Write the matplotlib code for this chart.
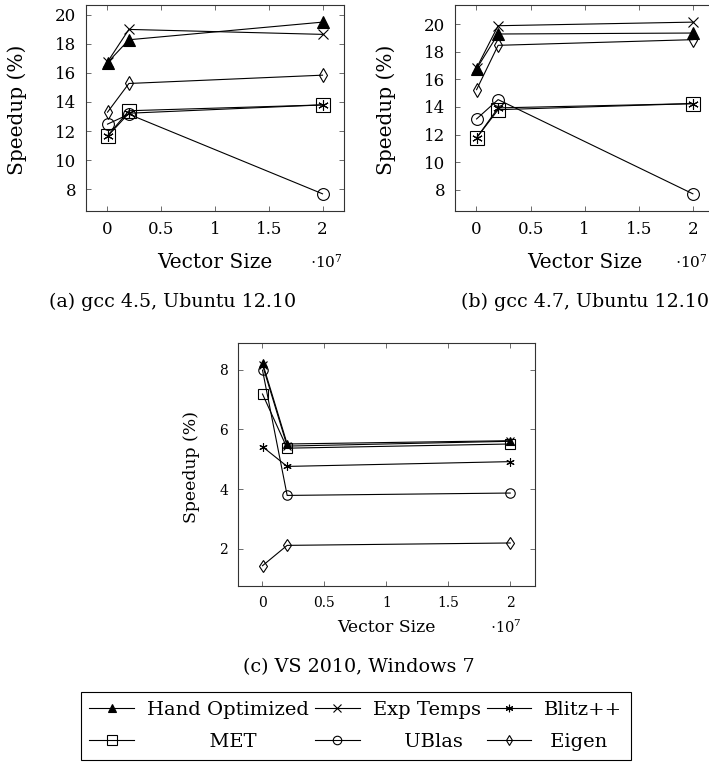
import matplotlib
matplotlib.use('Agg')
import matplotlib.pyplot as plt
from matplotlib.ticker import FuncFormatter, MultipleLocator

plt.rcParams['font.family'] = ['DejaVu Serif']
plt.rcParams['mathtext.fontset'] = 'dejavuserif'
plt.rcParams['axes.edgecolor'] = '#333333'

# vector sizes (x axis)
sizes = [1e4, 2e6, 2e7]

# (a) gcc 4.5, Ubuntu 12.10
hand_a = [16.7, 18.27, 19.48]
exp_a = [16.75, 18.98, 18.64]
blitz_a = [11.64, 13.23, 13.8]
met_a = [11.68, 13.4, 13.8]
ublas_a = [12.48, 13.16, 7.7]
eigen_a = [13.3, 15.27, 15.84]

# (b) gcc 4.7, Ubuntu 12.10
hand_b = [16.77, 19.28, 19.35]
exp_b = [16.82, 19.88, 20.14]
blitz_b = [11.76, 13.93, 14.24]
met_b = [11.76, 13.8, 14.24]
ublas_b = [13.13, 14.53, 7.71]
eigen_b = [15.25, 18.46, 18.87]

# (c) VS 2010, Windows 7
hand_c = [8.22, 5.51, 5.62]
exp_c = [8.15, 5.44, 5.6]
blitz_c = [5.42, 4.76, 4.92]
met_c = [7.18, 5.37, 5.51]
ublas_c = [7.98, 3.79, 3.87]
eigen_c = [1.44, 2.12, 2.2]

names = ['Hand Optimized', 'Exp Temps', 'Blitz++', 'MET', 'UBlas', 'Eigen']
markers = {
    'Hand Optimized': dict(marker='^', mfc='black', ms=8),
    'Exp Temps': dict(marker='x', mfc='black', ms=7),
    'Blitz++': dict(marker=(6, 2, 0), mfc='black', ms=7.5),
    'MET': dict(marker='s', mfc='none', ms=9.5),
    'UBlas': dict(marker='o', mfc='none', ms=8.5),
    'Eigen': dict(marker='d', mfc='none', ms=7.5),
}


def panel(ax, data, tick_size, label_size, scale=1.0):
    lines = []
    for name, vals in zip(names, data):
        st = dict(markers[name])
        st['ms'] = st['ms'] * scale
        ln, = ax.plot(sizes, vals, color='black', lw=0.8, mec='black',
                      mew=0.8, label=name, **st)
        lines.append(ln)
    ax.margins(x=0.1, y=0.1)
    ax.xaxis.set_major_locator(MultipleLocator(0.5e7))
    ax.yaxis.set_major_locator(MultipleLocator(2))
    ax.xaxis.set_major_formatter(FuncFormatter(lambda v, p: f'{v / 1e7:g}'))
    ax.tick_params(direction='in', top=True, right=True, length=3.5,
                   width=0.6, color='#555555', labelsize=tick_size, pad=7)
    for sp in ax.spines.values():
        sp.set_linewidth(0.8)
    ax.set_xlabel('Vector Size', fontsize=label_size, va='center')
    ax.set_ylabel('Speedup (%)', fontsize=label_size, va='center')
    return lines


fig = plt.figure(figsize=(7.09, 7.63), dpi=100)

ax_a = fig.add_axes([0.1213, 0.7235, 0.3639, 0.27])
panel(ax_a, [hand_a, exp_a, blitz_a, met_a, ublas_a, eigen_a], 12, 14.5)
ax_a.xaxis.set_label_coords(0.5, -0.252)
ax_a.yaxis.set_label_coords(-0.267, 0.49)
ax_a.text(0.93, -0.245, r'$\cdot 10^7$', transform=ax_a.transAxes,
          ha='center', va='center', fontsize=11)
fig.text(0.244, 0.604, '(a) gcc 4.5, Ubuntu 12.10', ha='center',
         va='center', fontsize=13.7)

ax_b = fig.add_axes([0.6417, 0.7235, 0.366, 0.27])
panel(ax_b, [hand_b, exp_b, blitz_b, met_b, ublas_b, eigen_b], 12, 14.5)
ax_b.xaxis.set_label_coords(0.5, -0.252)
ax_b.yaxis.set_label_coords(-0.267, 0.49)
ax_b.text(0.91, -0.245, r'$\cdot 10^7$', transform=ax_b.transAxes,
          ha='center', va='center', fontsize=11)
fig.text(0.825, 0.604, '(b) gcc 4.7, Ubuntu 12.10', ha='center',
         va='center', fontsize=13.7)

ax_c = fig.add_axes([0.3353, 0.232, 0.4193, 0.3189])
lines_c = panel(ax_c, [hand_c, exp_c, blitz_c, met_c, ublas_c, eigen_c],
                10, 12.4, scale=0.8)
ax_c.xaxis.set_label_coords(0.5, -0.169)
ax_c.yaxis.set_label_coords(-0.154, 0.49)
ax_c.text(0.902, -0.17, r'$\cdot 10^7$', transform=ax_c.transAxes,
          ha='center', va='center', fontsize=10.5)
fig.text(0.506, 0.1258, '(c) VS 2010, Windows 7', ha='center',
         va='center', fontsize=13.8)

# legend: filled column-wise, so reorder to get the row layout
order = [0, 3, 1, 4, 2, 5]
labels = ['Hand Optimized', '          MET', 'Exp Temps', '     UBlas',
          'Blitz++', ' Eigen']
leg = fig.legend([lines_c[i] for i in order], labels, ncol=3, loc='center',
                 bbox_to_anchor=(0.502, 0.0485), fontsize=14,
                 frameon=True, fancybox=False, edgecolor='black',
                 framealpha=1, handlelength=2.3, handletextpad=0.67,
                 columnspacing=0.3, borderpad=0.45, labelspacing=0.7,
                 markerscale=0.9)
leg.get_frame().set_linewidth(0.8)

fig.savefig('out.png', dpi=100)
